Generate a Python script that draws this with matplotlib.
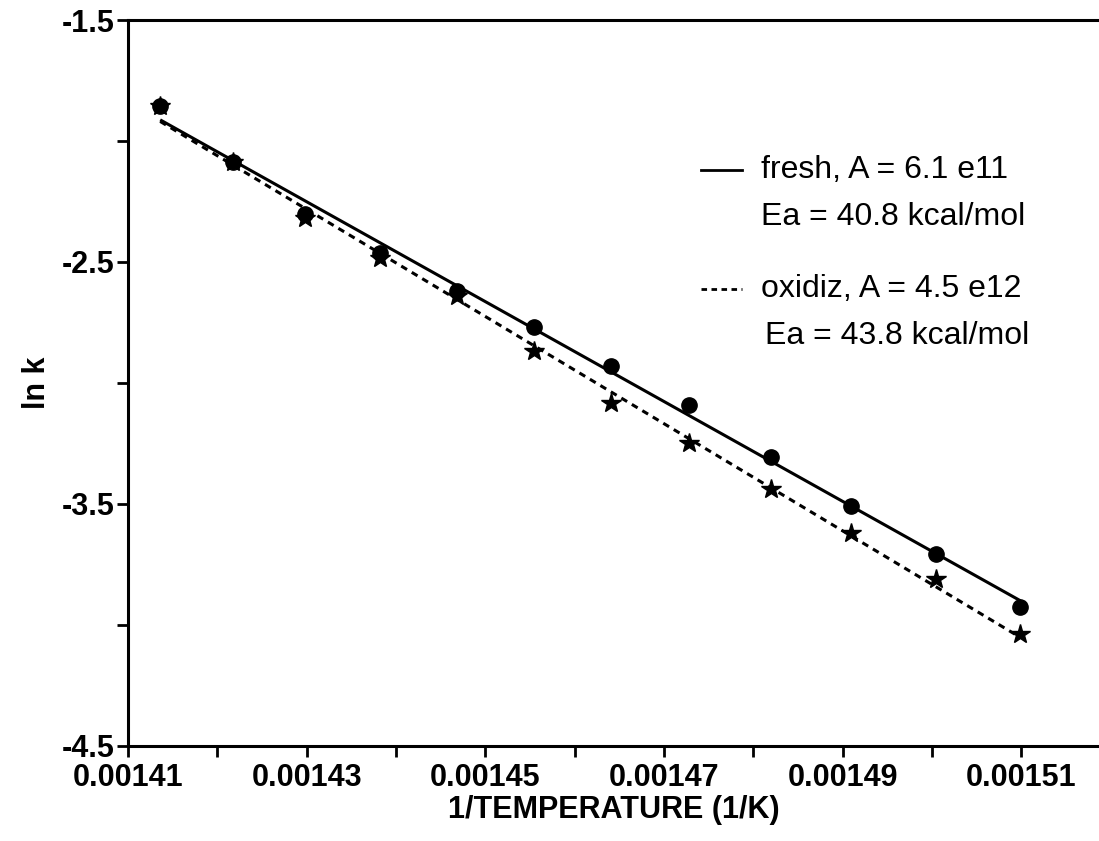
import numpy as np
import matplotlib
matplotlib.use("Agg")
import matplotlib.pyplot as plt
from matplotlib.ticker import MultipleLocator, FixedLocator

plt.rcParams['font.family'] = ['Liberation Sans', 'DejaVu Sans']
plt.rcParams['axes.unicode_minus'] = False

# inverse temperature (1/K) and ln k for both catalyst samples
inv_temp = [0.0014136, 0.0014218, 0.0014298, 0.0014382, 0.0014468, 0.0014554,
            0.0014641, 0.0014728, 0.0014820, 0.0014909, 0.0015005, 0.0015099]
lnk_fresh = [-1.855, -2.087, -2.300, -2.462, -2.620, -2.769,
             -2.930, -3.091, -3.306, -3.508, -3.707, -3.926]
lnk_oxid = [-1.855, -2.087, -2.320, -2.482, -2.640, -2.868,
            -3.083, -3.248, -3.438, -3.620, -3.810, -4.037]

x_ticks = [0.00141, 0.00143, 0.00145, 0.00147, 0.00149, 0.00151]
y_ticks = [-4.5, -3.5, -2.5, -1.5]

fresh_label = ["fresh, A = 6.1 e11", "Ea = 40.8 kcal/mol"]
oxid_label = ["oxidiz, A = 4.5 e12", "Ea = 43.8 kcal/mol"]

x = np.array(inv_temp)
fig = plt.figure(figsize=(10.99, 8.41), dpi=100)
ax = fig.add_axes([0.1165, 0.113, 0.8835, 0.8632])

# least squares Arrhenius fits
pf = np.polyfit(x, lnk_fresh, 1)
po = np.polyfit(x, lnk_oxid, 1)
xf = np.array([x[0], x[-1]])
ax.plot(xf, np.polyval(pf, xf), color='black', lw=2.2, solid_capstyle='butt')
ax.plot(xf, np.polyval(po, xf), color='black', lw=2.2, linestyle=(0, (2.2, 1.8)))

ax.plot(x, lnk_fresh, linestyle='none', marker='o', ms=11, color='black')
ax.plot(x, lnk_oxid, linestyle='none', marker='*', ms=15, color='black')

ax.set_xlim(0.00141, 0.0015187)
ax.set_ylim(-4.5, -1.5)
ax.xaxis.set_major_locator(FixedLocator(x_ticks))
ax.xaxis.set_minor_locator(MultipleLocator(0.00001))
ax.yaxis.set_major_locator(FixedLocator(y_ticks))
ax.yaxis.set_minor_locator(MultipleLocator(0.5))
ax.set_xticklabels(["%.5f" % v for v in x_ticks])
ax.set_yticklabels(["%.1f" % v for v in y_ticks])
ax.tick_params(which='both', direction='out', length=8, width=2)
ax.tick_params(labelsize=22)
for lab in ax.get_xticklabels() + ax.get_yticklabels():
    lab.set_fontweight('bold')
ax.tick_params(axis='x', pad=4)
ax.tick_params(axis='y', pad=2)

ax.spines['right'].set_visible(False)
for s in ['left', 'bottom', 'top']:
    ax.spines[s].set_linewidth(2.2)

ax.set_xlabel("1/TEMPERATURE (1/K)", fontsize=22, fontweight='bold', labelpad=2)
ax.set_ylabel("ln k", fontsize=22, fontweight='bold')
ax.yaxis.set_label_coords(-0.078, 0.5)

# hand-placed key on the right
tr = ax.transAxes
ax.plot([0.590, 0.632], [0.794, 0.794], color='black', lw=2, transform=tr)
ax.text(0.652, 0.794, fresh_label[0], fontsize=23, va='center', transform=tr)
ax.text(0.652, 0.729, fresh_label[1], fontsize=23, va='center', transform=tr)
ax.plot([0.590, 0.632], [0.630, 0.630], color='black', lw=2,
        linestyle=(0, (2, 1.6)), transform=tr)
ax.text(0.652, 0.630, oxid_label[0], fontsize=23, va='center', transform=tr)
ax.text(0.656, 0.565, oxid_label[1], fontsize=23, va='center', transform=tr)

fig.savefig("out.png", dpi=100)
